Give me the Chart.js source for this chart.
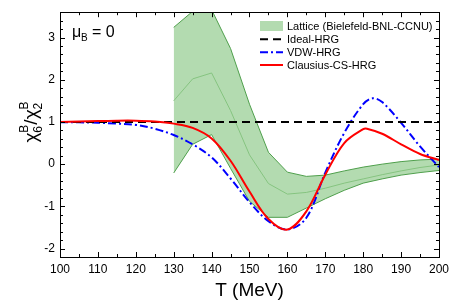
<!DOCTYPE html>
<html>
<head>
<meta charset="utf-8">
<script src="https://cdn.jsdelivr.net/npm/chart.js@4.4.1/dist/chart.umd.min.js"></script>
<style>
  html, body { margin: 0; padding: 0; background: #fff; }
  #wrap { width: 454px; height: 303px; }
</style>
</head>
<body>
<div id="wrap"><canvas id="chi"></canvas></div>
<script>
// lattice band (Bielefeld-BNL-CCNU)
const latticeT = [130, 135, 140, 145, 150, 155, 160, 165, 170, 175, 180, 185, 190, 195, 200];
const latticeUpper = [3.24, 3.62, 3.66, 2.74, 1.42, 0.28, -0.19, -0.29, -0.26, -0.16, -0.07, 0.0, 0.06, 0.10, 0.12];
const latticeMid = [1.5, 2.02, 2.16, 1.27, 0.22, -0.46, -0.71, -0.67, -0.57, -0.45, -0.35, -0.25, -0.16, -0.08, -0.02];
const latticeLower = [-0.21, 0.47, 0.70, -0.10, -0.88, -1.26, -1.26, -1.04, -0.82, -0.62, -0.45, -0.35, -0.26, -0.20, -0.15];

// HRG model curves
const idealT = [100, 200];
const idealY = [1, 1];
const vdwT = [100, 105, 110, 115, 120, 125, 130, 135, 140, 145, 150, 155, 160, 165, 170, 175, 180, 182.5, 185, 190, 195, 200];
const vdwY = [0.99, 0.99, 0.98, 0.96, 0.93, 0.84, 0.69, 0.47, 0.16, -0.34, -0.9, -1.35, -1.55, -1.27, -0.2, 0.74, 1.42, 1.56, 1.47, 0.98, 0.42, -0.07];
const clausT = [100, 105, 110, 115, 120, 125, 130, 135, 140, 145, 150, 155, 160, 165, 170, 175, 180, 181, 185, 190, 195, 200];
const clausY = [1.0, 1.01, 1.02, 1.03, 1.03, 1.01, 0.96, 0.86, 0.61, 0.08, -0.65, -1.3, -1.55, -1.12, -0.25, 0.5, 0.83, 0.84, 0.72, 0.47, 0.24, 0.1];

// axes
const xMajor = [100, 110, 120, 130, 140, 150, 160, 170, 180, 190, 200];
const yMajor = [-2, -1, 0, 1, 2, 3];

const FONT = '"Liberation Sans", Arial, Helvetica, sans-serif';
const bandFill = 'rgba(150, 205, 145, 0.72)';
const bandEdge = '#4f9f4c';
const bandMid = '#86c480';

function pts(xs, ys) {
  return xs.map((x, i) => ({ x: x, y: ys[i] }));
}

const legendItems = [
  { label: 'Lattice (Bielefeld-BNL-CCNU)', type: 'box' },
  { label: 'Ideal-HRG', color: '#000', dash: [8, 5] },
  { label: 'VDW-HRG', color: '#0000ff', dash: [8, 3, 2, 3] },
  { label: 'Clausius-CS-HRG', color: '#ff0000', dash: [] }
];

const decor = {
  id: 'decor',
  afterDraw(chart) {
    const ctx = chart.ctx;
    const a = chart.chartArea;
    const xs = chart.scales.x, ys = chart.scales.y;
    ctx.save();
    ctx.strokeStyle = '#000';
    ctx.lineWidth = 1;
    ctx.setLineDash([]);
    // frame
    ctx.strokeRect(Math.round(a.left) + 0.5, Math.round(a.top) + 0.5,
      Math.round(a.right - a.left), Math.round(a.bottom - a.top));
    // x ticks (bottom + top, inward)
    ctx.beginPath();
    for (let v = 100; v <= 200; v += 5) {
      const len = v % 10 === 0 ? 5 : 3;
      const px = Math.round(xs.getPixelForValue(v)) + 0.5;
      ctx.moveTo(px, a.bottom); ctx.lineTo(px, a.bottom - len);
      ctx.moveTo(px, a.top); ctx.lineTo(px, a.top + len);
    }
    // y ticks (left + right, inward)
    for (let i = -11; i <= 18; i++) {
      const v = i * 0.2;
      const len = i % 5 === 0 ? 5 : 3;
      const py = Math.round(ys.getPixelForValue(v)) + 0.5;
      ctx.moveTo(a.left, py); ctx.lineTo(a.left + len, py);
      ctx.moveTo(a.right, py); ctx.lineTo(a.right - len, py);
    }
    ctx.stroke();

    // mu_B = 0
    ctx.fillStyle = '#000';
    ctx.textBaseline = 'alphabetic';
    ctx.textAlign = 'left';
    ctx.font = '16px ' + FONT;
    ctx.fillText('\u03bc', 72, 37);
    ctx.font = '10px ' + FONT;
    ctx.fillText('B', 81, 41);
    ctx.font = '16px ' + FONT;
    ctx.fillText('= 0', 92, 37);

    // legend
    ctx.font = '11px ' + FONT;
    ctx.textBaseline = 'middle';
    const rows = [26, 39.3, 52.3, 65];
    legendItems.forEach((it, i) => {
      const y = rows[i];
      if (it.type === 'box') {
        ctx.fillStyle = bandFill;
        ctx.fillRect(260, y - 5, 23, 10);
      } else {
        ctx.strokeStyle = it.color;
        ctx.lineWidth = 2;
        ctx.setLineDash(it.dash);
        ctx.beginPath();
        ctx.moveTo(260, y); ctx.lineTo(283, y);
        ctx.stroke();
        ctx.setLineDash([]);
      }
      ctx.fillStyle = '#000';
      ctx.fillText(it.label, 287, y + 0.5);
    });

    // x title
    ctx.font = '19px ' + FONT;
    ctx.textAlign = 'center';
    ctx.textBaseline = 'alphabetic';
    ctx.fillText('T (MeV)', (a.left + a.right) / 2, 296);

    // y title: chi_6^B / chi_2^B, rotated
    ctx.translate(37, 122);
    ctx.rotate(-Math.PI / 2);
    const big = '19px ' + FONT, small = '12px ' + FONT;
    const parts = [
      { t: '\u03c7', f: big, dy: 0 },
      { t: '6', f: small, dy: 5, sup: 'B' },
      { t: '/', f: big, dy: 0 },
      { t: '\u03c7', f: big, dy: 0 },
      { t: '2', f: small, dy: 5, sup: 'B' }
    ];
    let total = 0;
    parts.forEach(p => { ctx.font = p.f; p.w = ctx.measureText(p.t).width; if (p.sup) p.w = Math.max(p.w, ctx.measureText(p.sup).width); total += p.w; });
    let cx = -total / 2;
    ctx.textAlign = 'left';
    parts.forEach(p => {
      ctx.font = p.f;
      ctx.fillText(p.t, cx, p.dy);
      if (p.sup) ctx.fillText(p.sup, cx, -9);
      cx += p.w;
    });
    ctx.restore();
  }
};

Chart.defaults.color = '#000';

new Chart(document.getElementById('chi'), {
  type: 'line',
  data: {
    datasets: [
      {
        label: 'Lattice upper',
        data: pts(latticeT, latticeUpper),
        borderColor: bandEdge, borderWidth: 1,
        backgroundColor: bandFill,
        fill: 2, pointRadius: 0, tension: 0, order: 5
      },
      {
        label: 'Lattice',
        data: pts(latticeT, latticeMid),
        borderColor: bandMid, borderWidth: 1,
        fill: false, pointRadius: 0, tension: 0, order: 4
      },
      {
        label: 'Lattice lower',
        data: pts(latticeT, latticeLower),
        borderColor: bandEdge, borderWidth: 1,
        fill: false, pointRadius: 0, tension: 0, order: 4
      },
      {
        label: 'Ideal-HRG',
        data: pts(idealT, idealY),
        borderColor: '#000', borderWidth: 2, borderDash: [8, 5],
        fill: false, pointRadius: 0, order: 1
      },
      {
        label: 'VDW-HRG',
        data: pts(vdwT, vdwY),
        borderColor: '#0000ff', borderWidth: 2, borderDash: [8, 3, 2, 3],
        fill: false, pointRadius: 0, tension: 0.35, order: 1
      },
      {
        label: 'Clausius-CS-HRG',
        data: pts(clausT, clausY),
        borderColor: '#ff0000', borderWidth: 2,
        fill: false, pointRadius: 0, tension: 0.35, order: 0
      }
    ]
  },
  options: {
    responsive: true,
    maintainAspectRatio: false,
    animation: false,
    layout: { padding: { top: 7, right: 12, left: 0, bottom: 0 } },
    scales: {
      x: {
        type: 'linear', min: 100, max: 200,
        grid: { display: false, drawTicks: false },
        border: { display: false },
        afterBuildTicks: s => { s.ticks = xMajor.map(v => ({ value: v })); },
        afterFit: s => { s.height = 46; },
        ticks: { padding: 5, maxRotation: 0, font: { size: 12, family: FONT } }
      },
      y: {
        type: 'linear', min: -2.2, max: 3.6,
        grid: { display: false, drawTicks: false },
        border: { display: false },
        afterBuildTicks: s => { s.ticks = yMajor.map(v => ({ value: v })); },
        afterFit: s => { s.width = 60; },
        ticks: { padding: 5, font: { size: 12, family: FONT } }
      }
    },
    plugins: {
      legend: { display: false },
      tooltip: { enabled: false }
    }
  },
  plugins: [decor]
});
</script>
</body>
</html>
